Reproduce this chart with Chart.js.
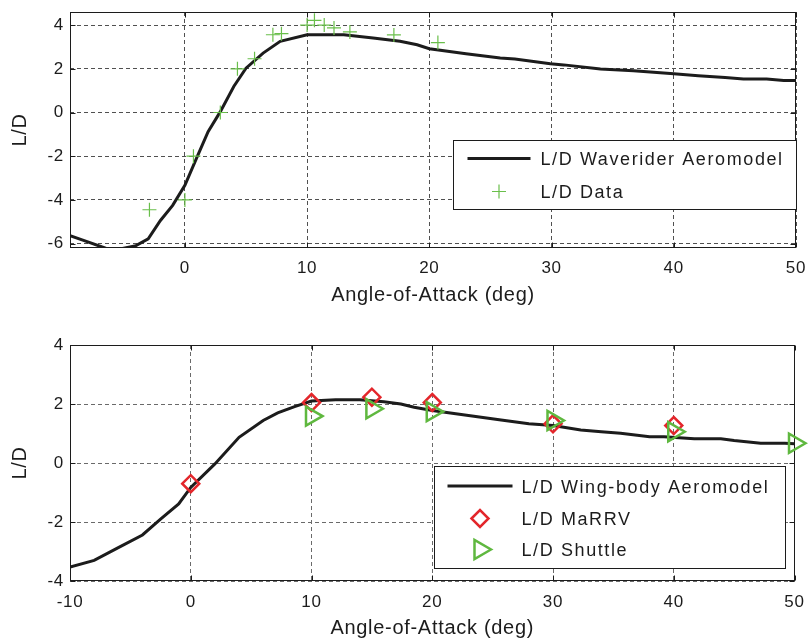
<!DOCTYPE html>
<html>
<head>
<meta charset="utf-8">
<script src="https://cdn.jsdelivr.net/npm/chart.js@4.4.1/dist/chart.umd.min.js"></script>
<style>
  html, body { margin: 0; padding: 0; background: #fff; overflow: hidden; }
  #wrap { position: relative; width: 808px; height: 638px; overflow: hidden; }
  canvas { position: absolute; left: 0; }
  #waverider { top: 0; }
  #wingbody { top: 330px; }
</style>
</head>
<body>
<div id="wrap">
  <canvas id="waverider" width="808" height="310"></canvas>
  <canvas id="wingbody" width="808" height="310"></canvas>
</div>
<script>
// Waverider aeromodel and measured L/D
const waveAoa = [-9.4, -8, -6.6, -5.9, -5.3, -4, -3, -2, -1, 0, 1, 1.9, 2.9, 4, 5, 6.4, 7.8, 10, 13, 15.4, 17.6, 19, 20, 23, 25.8, 27, 29.9, 31, 34, 36.7, 40, 42, 44.2, 45.7, 47.6, 49, 50];
const waveLd = [-5.63, -5.91, -6.19, -6.33, -6.24, -6.09, -5.78, -4.94, -4.25, -3.33, -2.03, -0.88, 0.04, 1.19, 2.03, 2.72, 3.26, 3.56, 3.56, 3.41, 3.26, 3.1, 2.92, 2.69, 2.49, 2.45, 2.23, 2.18, 1.99, 1.91, 1.77, 1.68, 1.6, 1.53, 1.53, 1.46, 1.46];
const waveDataAoa = [-2.9, 0, 0.7, 2.9, 4.3, 5.7, 7.2, 7.9, 10, 10.6, 11.4, 12.2, 13.5, 17.1, 20.7];
const waveDataLd = [-4.45, -4.0, -2.0, 0.0, 2.0, 2.46, 3.56, 3.61, 4.0, 4.22, 4.0, 3.87, 3.69, 3.55, 3.2];
const waveXTicks = [0, 10, 20, 30, 40, 50];
const waveYTicks = [-6, -4, -2, 0, 2, 4];

// Wing-body aeromodel with MaRRV and Shuttle reference points
const wingAoa = [-10, -8, -6, -4, -2.5, -1, 0, 2, 4, 6, 7.2, 8.6, 10, 12, 14, 16, 17.4, 18.5, 20, 23, 25.7, 28, 30, 32.3, 34, 35.6, 38, 39.2, 41.7, 43.9, 45, 47.2, 49.2, 50];
const wingLd = [-3.53, -3.3, -2.87, -2.44, -1.9, -1.39, -0.83, -0.03, 0.87, 1.44, 1.7, 1.91, 2.1, 2.14, 2.14, 2.08, 2.0, 1.89, 1.78, 1.61, 1.46, 1.33, 1.27, 1.12, 1.06, 1.01, 0.89, 0.89, 0.82, 0.82, 0.76, 0.67, 0.67, 0.65];
const marrvAoa = [0, 10, 15, 20, 30, 40];
const marrvLd = [-0.7, 2.05, 2.23, 2.05, 1.33, 1.27];
const shuttleAoa = [10, 15, 20, 30, 40, 50];
const shuttleLd = [1.59, 1.84, 1.74, 1.44, 1.06, 0.67];
const wingXTicks = [-10, 0, 10, 20, 30, 40, 50];
const wingYTicks = [-4, -2, 0, 2, 4];

const INK = '#1c1c1c';
const FONT_FAMILY = "'Liberation Sans', Arial, Helvetica, sans-serif";
Chart.defaults.font.family = FONT_FAMILY;
Chart.defaults.font.size = 17;
Chart.defaults.color = INK;

const toPoints = (xs, ys) => xs.map((x, i) => ({ x: x, y: ys[i] }));

// MATLAB-ish axes box with inward tick marks
const frameBox = {
    id: 'frameBox',
    beforeDraw(chart) {
        chart.ctx.letterSpacing = '0.7px';
    },
    beforeDatasetsDraw(chart) {
        const { ctx, chartArea: a, scales } = chart;
        const l = Math.round(a.left) + 0.5, r = Math.round(a.right) - 0.5;
        const t = Math.round(a.top) + 0.5, b = Math.round(a.bottom) - 0.5;
        ctx.save();
        ctx.setLineDash([]);
        ctx.strokeStyle = INK;
        ctx.lineWidth = 1;
        ctx.beginPath();
        scales.x.ticks.forEach(tk => {
            const px = Math.round(scales.x.getPixelForValue(tk.value)) + 0.5;
            ctx.moveTo(px, b); ctx.lineTo(px, b - 5);
            ctx.moveTo(px, t); ctx.lineTo(px, t + 5);
        });
        scales.y.ticks.forEach(tk => {
            const py = Math.round(scales.y.getPixelForValue(tk.value)) + 0.5;
            ctx.moveTo(l, py); ctx.lineTo(l + 5, py);
            ctx.moveTo(r, py); ctx.lineTo(r - 5, py);
        });
        ctx.stroke();
        ctx.strokeRect(l, t, r - l, b - t);
        ctx.restore();
    }
};

function drawMarker(ctx, ds, x, y) {
    ctx.save();
    ctx.setLineDash([]);
    ctx.strokeStyle = ds.borderColor;
    ctx.lineWidth = ds.borderWidth;
    ctx.fillStyle = 'rgba(0,0,0,0)';
    Chart.helpers.drawPoint(ctx, {
        pointStyle: ds.pointStyle,
        rotation: ds.pointRotation || 0,
        radius: ds.pointRadius,
        borderWidth: ds.borderWidth
    }, x, y);
    ctx.restore();
}

// Legend box sitting inside the plot area
const boxLegend = {
    id: 'boxLegend',
    afterDraw(chart, args, opts) {
        const { ctx, chartArea: a } = chart;
        const x0 = Math.round(a.right - opts.right - opts.width) + 0.5;
        const y0 = Math.round(a.bottom - opts.bottom - opts.height) + 0.5;
        ctx.save();
        ctx.setLineDash([]);
        ctx.fillStyle = '#fff';
        ctx.fillRect(x0, y0, opts.width, opts.height);
        ctx.strokeStyle = INK;
        ctx.lineWidth = 1;
        ctx.strokeRect(x0, y0, opts.width, opts.height);
        ctx.font = '18px ' + FONT_FAMILY;
        ctx.letterSpacing = '1.6px';
        ctx.textBaseline = 'middle';
        ctx.textAlign = 'left';
        chart.data.datasets.forEach((ds, i) => {
            const y = y0 + opts.rows[i];
            if (ds.showLine) {
                ctx.strokeStyle = ds.borderColor;
                ctx.lineWidth = ds.borderWidth;
                ctx.beginPath();
                ctx.moveTo(x0 + opts.lineFrom, y);
                ctx.lineTo(x0 + opts.lineTo, y);
                ctx.stroke();
            } else {
                drawMarker(ctx, ds, x0 + (opts.lineFrom + opts.lineTo) / 2, y);
            }
            ctx.fillStyle = INK;
            ctx.fillText(ds.label, x0 + opts.textX, y + 2);
        });
        ctx.restore();
    }
};

// keep the plot box exactly where layout.padding puts it
function noOverhang(s) {
    s.paddingLeft = 0;
    s.paddingRight = 0;
    s.paddingTop = 0;
    s.paddingBottom = 0;
}

function axisOptions(cfg) {
    return {
        x: {
            type: 'linear',
            min: cfg.xMin,
            max: cfg.xMax,
            afterBuildTicks: s => { s.ticks = cfg.xTicks.map(v => ({ value: v })); },
            afterFit: s => { s.height = cfg.xHeight; noOverhang(s); },
            ticks: { padding: cfg.xTickPad, maxRotation: 0, autoSkip: false, color: INK },
            grid: { color: cfg.gridColor, lineWidth: 1, drawTicks: false },
            border: { display: false, dash: [4, 3] },
            title: {
                display: true,
                text: 'Angle-of-Attack (deg)',
                color: INK,
                font: { size: 20 },
                padding: { top: 0, bottom: cfg.xTitlePad }
            }
        },
        y: {
            type: 'linear',
            min: cfg.yMin,
            max: cfg.yMax,
            afterBuildTicks: s => { s.ticks = cfg.yTicks.map(v => ({ value: v })); },
            afterFit: s => { s.width = 70; noOverhang(s); },
            ticks: { padding: 6, color: INK },
            grid: { color: cfg.gridColor, lineWidth: 1, drawTicks: false },
            border: { display: false, dash: [4, 3] },
            title: {
                display: true,
                text: 'L/D',
                color: INK,
                font: { size: 20 },
                padding: { top: 8, bottom: 0 }
            }
        }
    };
}

new Chart(document.getElementById('waverider'), {
    type: 'scatter',
    data: {
        datasets: [{
            label: 'L/D Waverider Aeromodel',
            data: toPoints(waveAoa, waveLd),
            showLine: true,
            borderColor: INK,
            borderWidth: 3,
            pointRadius: 0,
            tension: 0,
            order: 2
        }, {
            label: 'L/D Data',
            data: toPoints(waveDataAoa, waveDataLd),
            showLine: false,
            borderColor: '#6abf4b',
            backgroundColor: 'rgba(0,0,0,0)',
            borderWidth: 1.2,
            pointStyle: 'cross',
            pointRadius: 7,
            clip: false,
            order: 1
        }]
    },
    options: {
        responsive: false,
        animation: false,
        events: [],
        layout: { padding: { top: 12, right: 12, left: 0, bottom: 0 } },
        scales: axisOptions({
            xMin: -9.4, xMax: 50, xTicks: waveXTicks,
            yMin: -6.2, yMax: 4.6, yTicks: waveYTicks,
            xHeight: 62, xTickPad: 10, xTitlePad: 3, gridColor: '#505050'
        }),
        plugins: {
            legend: { display: false },
            tooltip: { enabled: false },
            boxLegend: { right: 0, bottom: 39, width: 343, height: 69, rows: [18, 51], lineFrom: 14, lineTo: 77, textX: 87 }
        }
    },
    plugins: [frameBox, boxLegend]
});

new Chart(document.getElementById('wingbody'), {
    type: 'scatter',
    data: {
        datasets: [{
            label: 'L/D Wing-body Aeromodel',
            data: toPoints(wingAoa, wingLd),
            showLine: true,
            borderColor: INK,
            borderWidth: 3,
            pointRadius: 0,
            tension: 0,
            order: 3
        }, {
            label: 'L/D MaRRV',
            data: toPoints(marrvAoa, marrvLd),
            showLine: false,
            borderColor: '#e3262b',
            backgroundColor: 'rgba(0,0,0,0)',
            borderWidth: 2.5,
            pointStyle: 'rectRot',
            pointRadius: 8.5,
            clip: false,
            order: 2
        }, {
            label: 'L/D Shuttle',
            data: toPoints(shuttleAoa, shuttleLd),
            showLine: false,
            borderColor: '#5fb83f',
            backgroundColor: 'rgba(0,0,0,0)',
            borderWidth: 2.5,
            pointStyle: 'triangle',
            pointRotation: 90,
            pointRadius: 11,
            clip: false,
            order: 1
        }]
    },
    options: {
        responsive: false,
        animation: false,
        events: [],
        layout: { padding: { top: 15, right: 12, left: 0, bottom: 0 } },
        scales: axisOptions({
            xMin: -10, xMax: 50, xTicks: wingXTicks,
            yMin: -4, yMax: 4, yTicks: wingYTicks,
            xHeight: 59, xTickPad: 11, xTitlePad: 0, gridColor: '#6a6a6a'
        }),
        plugins: {
            legend: { display: false },
            tooltip: { enabled: false },
            boxLegend: { right: 10, bottom: 13, width: 351, height: 102, rows: [19.5, 52, 83], lineFrom: 13, lineTo: 78, textX: 87 }
        }
    },
    plugins: [frameBox, boxLegend]
});
</script>
</body>
</html>
